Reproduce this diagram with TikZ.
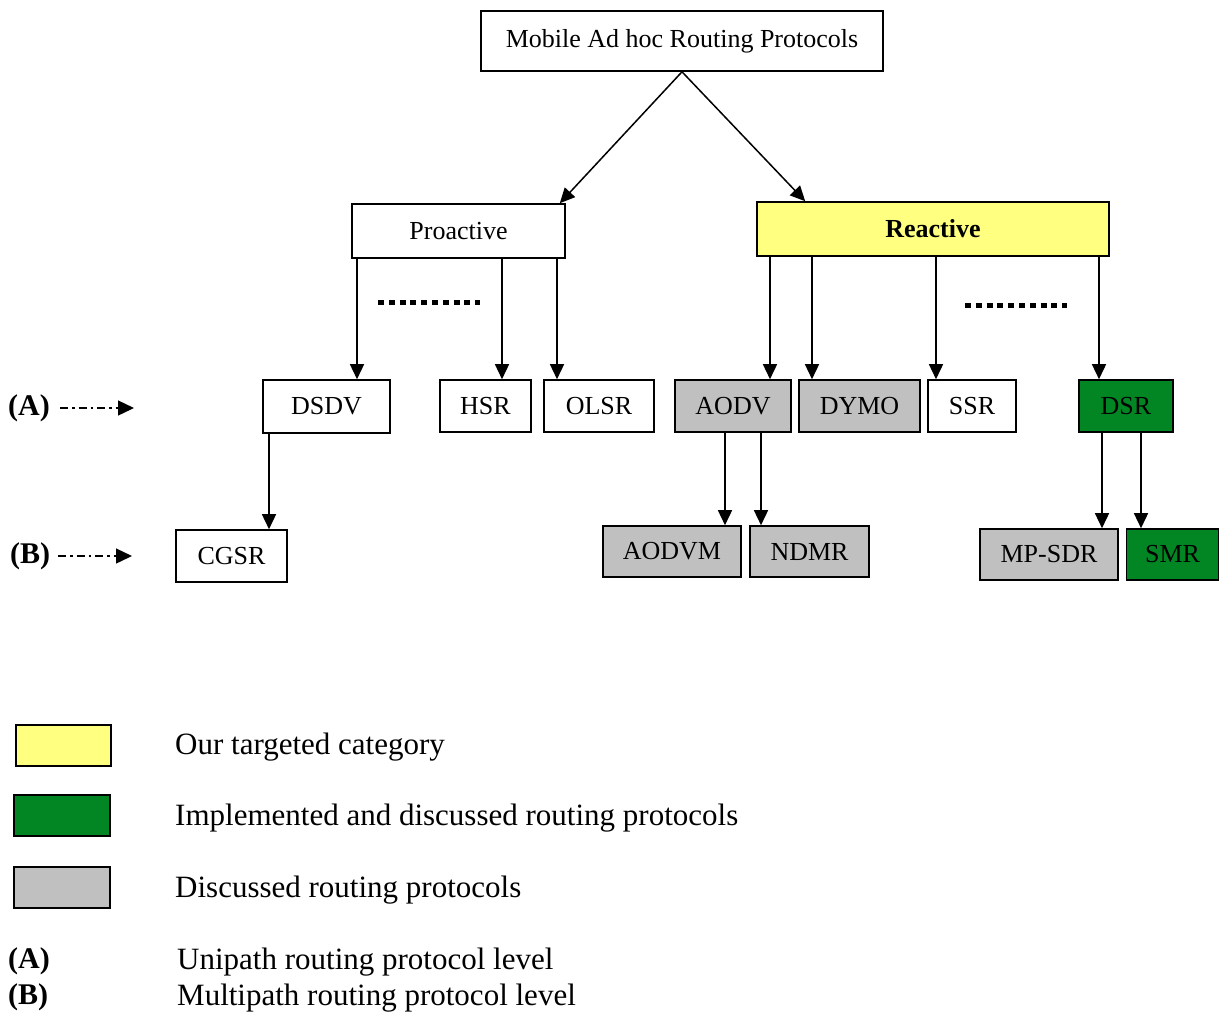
\documentclass[tikz,border=0pt]{standalone}
\usepackage{fontspec}
\setmainfont{Liberation Serif}
\usetikzlibrary{arrows.meta,calc}
\definecolor{catyellow}{RGB}{255,255,128}
\definecolor{implgreen}{RGB}{2,134,36}
\definecolor{discgray}{RGB}{192,192,192}
\begin{document}
\begin{tikzpicture}[x=1pt,y=-1pt,
  every node/.style={font=\fontsize{26}{31}\selectfont, inner sep=0pt},
  box/.style={draw, line width=1.6pt, fill=white},
  reactivebox/.style={box, fill=catyellow, font=\fontsize{26}{31}\selectfont\bfseries},
  greenbox/.style={box, fill=implgreen},
  graybox/.style={box, fill=discgray},
  arr/.style={line width=1.5pt, -{Triangle[length=15pt,width=14pt]}},
  levelarr/.style={line width=1.4pt, dash pattern=on 8pt off 4pt on 2.5pt off 4pt, -{Triangle[length=16pt,width=15pt]}},
  dotline/.style={line width=5pt, dash pattern=on 6pt off 4.8pt},
  lvl/.style={font=\fontsize{30}{36}\selectfont\bfseries, anchor=west},
  legtext/.style={font=\fontsize{31}{37}\selectfont, anchor=west}
]
\useasboundingbox (0,0) rectangle (1220,1013);

% root and categories
\node[box, minimum width=402pt, minimum height=60pt] (root) at (682,41) {Mobile Ad hoc Routing Protocols};
\node[box, minimum width=213pt, minimum height=54pt] (pro) at (458.5,231) {Proactive};
\node[reactivebox, minimum width=352pt, minimum height=54pt] (rea) at (933,229) {Reactive};

% unipath protocols
\node[box, minimum width=127pt, minimum height=53pt] (dsdv) at (326.5,406.5) {DSDV};
\node[box, minimum width=91pt, minimum height=52pt] (hsr) at (485.5,406) {HSR};
\node[box, minimum width=110pt, minimum height=52pt] (olsr) at (599,406) {OLSR};
\node[graybox, minimum width=116pt, minimum height=52pt] (aodv) at (733,406) {AODV};
\node[graybox, minimum width=121pt, minimum height=52pt] (dymo) at (859.5,406) {DYMO};
\node[box, minimum width=88pt, minimum height=52pt] (ssr) at (972,406) {SSR};
\node[greenbox, minimum width=94pt, minimum height=52pt] (dsr) at (1126,406) {DSR};

% multipath protocols
\node[box, minimum width=111pt, minimum height=52pt] (cgsr) at (231.5,556) {CGSR};
\node[graybox, minimum width=138pt, minimum height=51pt] (aodvm) at (672,551.5) {AODVM};
\node[graybox, minimum width=119pt, minimum height=51pt] (ndmr) at (809.5,551.5) {NDMR};
\node[graybox, minimum width=138pt, minimum height=51pt] (mpsdr) at (1049,554.5) {MP-SDR};
\node[greenbox, minimum width=92pt, minimum height=51pt] (smr) at (1172.5,554.5) {SMR};

% connectors
\draw[arr] (root.south) -- ([xshift=-6pt]pro.north east);
\draw[arr] (root.south) -- ([xshift=49pt]rea.north west);

\draw[arr] (pro.south -| 357,0) -- (dsdv.north -| 357,0);
\draw[arr] (pro.south -| 502,0) -- (hsr.north -| 502,0);
\draw[arr] (pro.south -| 557,0) -- (olsr.north -| 557,0);

\draw[arr] (rea.south -| 770,0) -- (aodv.north -| 770,0);
\draw[arr] (rea.south -| 812,0) -- (dymo.north -| 812,0);
\draw[arr] (rea.south -| 936,0) -- (ssr.north -| 936,0);
\draw[arr] (rea.south -| 1099,0) -- (dsr.north -| 1099,0);

\draw[arr] (dsdv.south -| 269,0) -- (cgsr.north -| 269,0);
\draw[arr] (aodv.south -| 725,0) -- (aodvm.north -| 725,0);
\draw[arr] (aodv.south -| 761,0) -- (ndmr.north -| 761,0);
\draw[arr] (dsr.south -| 1102,0) -- (mpsdr.north -| 1102,0);
\draw[arr] (dsr.south -| 1141,0) -- (smr.north -| 1141,0);

% ellipses for omitted protocols
\draw[dotline] (378,302) -- (480,302);
\draw[dotline] (965,305) -- (1067,305);

% level markers
\node[lvl] (la) at (8,408) {(A)};
\node[lvl] (lb) at (10,556) {(B)};
\coordinate (latip) at (134,408);
\coordinate (lbtip) at (132,556);
\draw[levelarr] (la.east -| 60,0) -- (latip);
\draw[levelarr] (lb.east -| 58,0) -- (lbtip);

% legend
\node[box, fill=catyellow, minimum width=95pt, minimum height=41pt] (kyellow) at (63.5,745.5) {};
\node[greenbox, minimum width=96pt, minimum height=41pt] (kgreen) at (62,815.5) {};
\node[graybox, minimum width=96pt, minimum height=41pt] (kgray) at (62,887.5) {};
\node[legtext] (tyellow) at (175,747) {Our targeted category};
\node[legtext] (tgreen) at (175,818) {Implemented and discussed routing protocols};
\node[legtext] (tgray) at (175,890) {Discussed routing protocols};
\node[lvl] (ka) at (8,961) {(A)};
\node[lvl] (kb) at (8,997) {(B)};
\node[legtext] (ta) at (177,962) {Unipath routing protocol level};
\node[legtext] (tb) at (177,998) {Multipath routing protocol level};
\end{tikzpicture}
\end{document}
